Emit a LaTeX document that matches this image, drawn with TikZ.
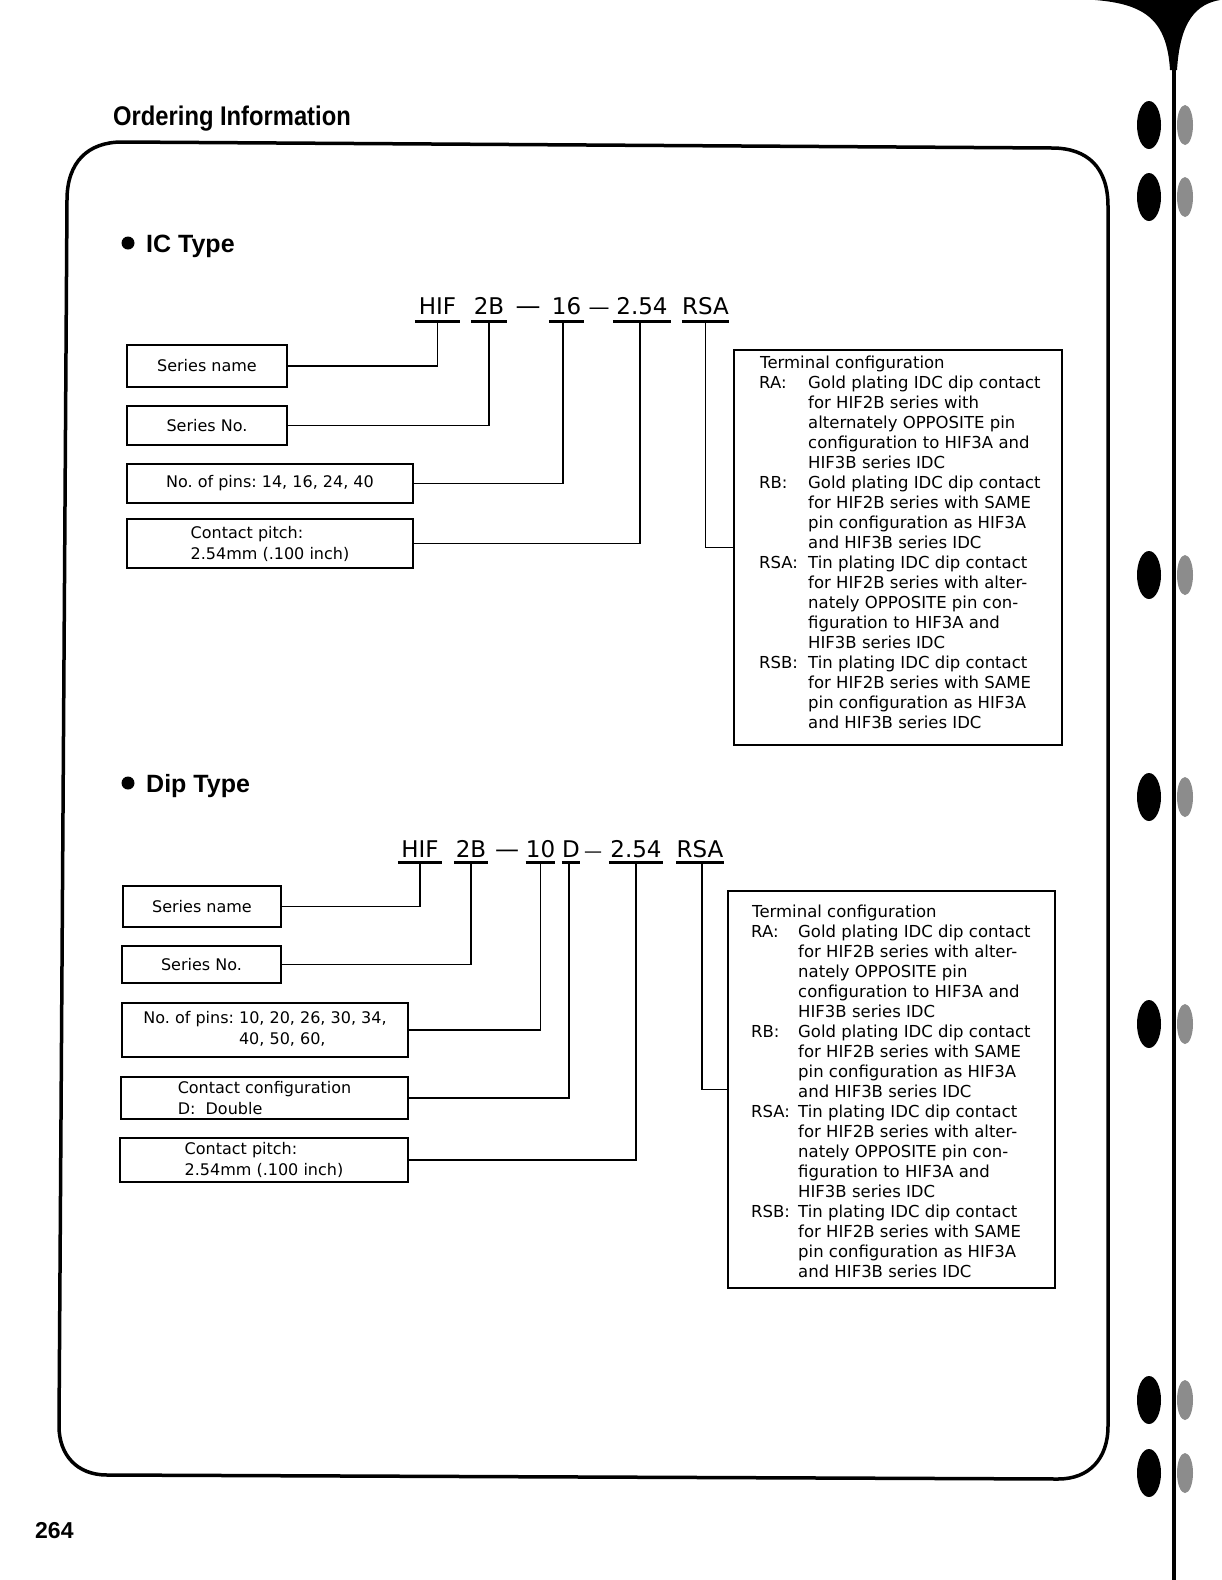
\documentclass[tikz,border=0pt]{standalone}
\usepackage{fontspec}
\setmainfont{DejaVu Sans}
\newfontfamily\headfont{Liberation Sans}
\newfontfamily\titlefont[FakeStretch=0.88]{Liberation Sans}
\frenchspacing
\begin{document}
\begin{tikzpicture}[x=1pt,y=-1pt,
  conn/.style={line width=1.4pt},
  uline/.style={line width=2.6pt},
  lbox/.style={draw,line width=1.3pt,inner sep=0pt,align=left,font=\fontsize{16}{21}\selectfont},
  rbox/.style={draw,line width=1.3pt,inner sep=0pt},
  rtext/.style={anchor=base west,inner sep=0pt,font=\fontsize{16.5}{20}\selectfont},
  codeseg/.style={inner sep=0pt,anchor=base,font=\fontsize{23}{23}\selectfont},
  head/.style={anchor=base west,inner sep=0pt,font=\headfont\bfseries\fontsize{25}{25}\selectfont},
  hole/.style={fill=black},
  holelight/.style={fill=black!45}]
\useasboundingbox (0,0) rectangle (1222,1580);
\fill[white] (0,0) rectangle (1222,1580);

% binding (scan edge)
\draw[line width=3.5pt] (1174,20) -- (1174,1580);
\fill (1095,0) .. controls (1145,4) and (1167,20) .. (1170,70) -- (1177,70) .. controls (1180,20) and (1197,4) .. (1220,0) -- cycle;
\foreach \yy in {125,197,575,797,1024,1400,1473}{
  \fill[hole] (1149,\yy) ellipse [x radius=12pt, y radius=24pt];
  \fill[holelight] (1185,\yy) ellipse [x radius=8pt, y radius=20pt];
}

% title and frame
\node[anchor=base west,inner sep=0pt,font=\titlefont\bfseries\fontsize{27}{27}\selectfont] (title) at (113,125) {Ordering Information};
\draw[line width=3.5pt] (67,200) .. controls (67,162) and (88,142) .. (122,142) -- (1052,148) .. controls (1088,148) and (1108,168) .. (1108,206) -- (1108,1426) .. controls (1108,1459) and (1089,1479) .. (1058,1479) -- (107,1475) .. controls (77,1475) and (59,1455) .. (59,1426) -- cycle;
\node[anchor=base west,inner sep=0pt,font=\headfont\bfseries\fontsize{23}{23}\selectfont] (pagenum) at (35,1538) {264};

% ================= IC Type =================
\fill (128,243) circle [radius=6.5pt];
\node[head] (ictype) at (146,252) {IC Type};

\node[codeseg,minimum width=45pt,text depth=7.5pt] (ichif) at (437.5,314) {HIF};
\node[codeseg,minimum width=36pt,text depth=7.5pt] (ictwob) at (489,314) {2B};
\node[codeseg,font=\fontsize{25}{25}\selectfont] (icdasha) at (528,314) {—};
\node[codeseg,minimum width=35pt,text depth=7.5pt] (icsixteen) at (566.5,314) {16};
\node[codeseg,font=\fontsize{21}{21}\selectfont] (icdashb) at (599,314) {—};
\node[codeseg,minimum width=58pt,text depth=7.5pt] (icpitchc) at (642,314) {2.54};
\node[codeseg,minimum width=45pt,text depth=7.5pt] (icrsa) at (705.5,314) {RSA};
\foreach \n in {ichif,ictwob,icsixteen,icpitchc,icrsa}{
  \draw[uline] (\n.south west) -- (\n.south east);
}

\node[lbox,minimum width=160pt,minimum height=42pt] (sname) at (207,366) {Series name};
\node[lbox,minimum width=160pt,minimum height=39pt] (sno) at (207,425.5) {Series No.};
\node[lbox,minimum width=286pt,minimum height=39pt] (pins) at (270,483.5) {No. of pins: 14, 16, 24, 40};
\node[lbox,minimum width=286pt,minimum height=49pt] (pitch) at (270,543.5) {Contact pitch:\\2.54mm (.100 inch)};

\node[rbox,minimum width=328pt,minimum height=395pt] (term) at (898,547.5) {};
\node[rtext] (termtext) at (759,368.8) {\begin{tabular}[t]{@{}p{49pt}@{}l@{}}
\multicolumn{2}{@{\hspace{1pt}}l@{}}{Terminal configuration}\\
RA: & Gold plating IDC dip contact\\
 & for HIF2B series with\\
 & alternately OPPOSITE pin\\
 & configuration to HIF3A and\\
 & HIF3B series IDC\\
RB: & Gold plating IDC dip contact\\
 & for HIF2B series with SAME\\
 & pin configuration as HIF3A\\
 & and HIF3B series IDC\\
RSA: & Tin plating IDC dip contact\\
 & for HIF2B series with alter-\\
 & nately OPPOSITE pin con-\\
 & figuration to HIF3A and\\
 & HIF3B series IDC\\
RSB: & Tin plating IDC dip contact\\
 & for HIF2B series with SAME\\
 & pin configuration as HIF3A\\
 & and HIF3B series IDC
\end{tabular}};

\draw[conn] (ichif.south) |- (sname.east);
\draw[conn] (ictwob.south) |- (sno.east);
\draw[conn] ([xshift=-3.5pt]icsixteen.south) |- (pins.east);
\draw[conn] ([xshift=-2pt]icpitchc.south) |- (pitch.east);
\draw[conn] (icrsa.south) |- (term.west);

% ================= Dip Type =================
\fill (128,783) circle [radius=6.5pt];
\node[head] (diptype) at (146,792) {Dip Type};

\node[codeseg,minimum width=44pt,text depth=5.5pt] (dhif) at (420,857) {HIF};
\node[codeseg,minimum width=34pt,text depth=5.5pt] (dtwob) at (471,857) {2B};
\node[codeseg,font=\fontsize{24}{24}\selectfont] (ddasha) at (507,857) {—};
\node[codeseg,minimum width=27pt,text depth=5.5pt] (dten) at (540.5,857) {10};
\node[codeseg,minimum width=14pt,text depth=5.5pt] (dd) at (571,857) {D};
\node[codeseg,font=\fontsize{18}{18}\selectfont] (ddashb) at (593,857) {—};
\node[codeseg,minimum width=54pt,text depth=5.5pt] (dpitchc) at (636,857) {2.54};
\node[codeseg,minimum width=45pt,text depth=5.5pt] (drsa) at (700,857) {RSA};
\foreach \n in {dhif,dtwob,dten,dd,dpitchc,drsa}{
  \draw[uline] (\n.south west) -- (\n.south east);
}

\node[lbox,minimum width=158pt,minimum height=41pt] (dsname) at (202,906.5) {Series name};
\node[lbox,minimum width=159pt,minimum height=37pt] (dsno) at (201.5,964.5) {Series No.};
\node[lbox,minimum width=286pt,minimum height=54pt] (dpins) at (265,1030) {No. of pins: 10, 20, 26, 30, 34,\\\phantom{No. of pins: }40, 50, 60,};
\node[lbox,minimum width=287pt,minimum height=42pt] (dconf) at (264.5,1098) {Contact configuration\\D:~~Double};
\node[lbox,minimum width=288pt,minimum height=44pt] (dpitch) at (264,1160) {Contact pitch:\\2.54mm (.100 inch)};

\node[rbox,minimum width=327pt,minimum height=397pt] (dterm) at (891.5,1089.5) {};
\node[rtext] (dtermtext) at (751,917.8) {\begin{tabular}[t]{@{}p{47pt}@{}l@{}}
\multicolumn{2}{@{\hspace{1pt}}l@{}}{Terminal configuration}\\
RA: & Gold plating IDC dip contact\\
 & for HIF2B series with alter-\\
 & nately OPPOSITE pin\\
 & configuration to HIF3A and\\
 & HIF3B series IDC\\
RB: & Gold plating IDC dip contact\\
 & for HIF2B series with SAME\\
 & pin configuration as HIF3A\\
 & and HIF3B series IDC\\
RSA: & Tin plating IDC dip contact\\
 & for HIF2B series with alter-\\
 & nately OPPOSITE pin con-\\
 & figuration to HIF3A and\\
 & HIF3B series IDC\\
RSB: & Tin plating IDC dip contact\\
 & for HIF2B series with SAME\\
 & pin configuration as HIF3A\\
 & and HIF3B series IDC
\end{tabular}};

\draw[conn] (dhif.south) |- (dsname.east);
\draw[conn] (dtwob.south) |- (dsno.east);
\draw[conn] (dten.south) |- (dpins.east);
\draw[conn] ([xshift=-2pt]dd.south) |- (dconf.east);
\draw[conn] (dpitchc.south) |- (dpitch.east);
\draw[conn] ([xshift=2pt]drsa.south) |- (dterm.west);
\end{tikzpicture}
\end{document}
